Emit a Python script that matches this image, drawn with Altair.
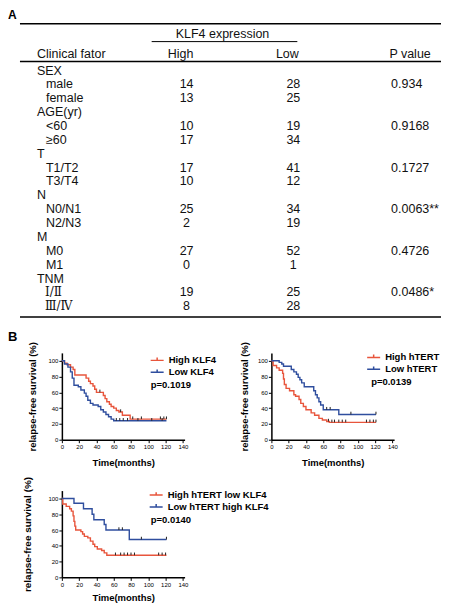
import altair as alt
import pandas as pd

# ---------------- Panel A: clinical table ----------------
panel_labels = ["A", "B"]
col_group_title = "KLF4 expression"
col_headers = ["Clinical fator", "High", "Low", "P value"]
factor_names = ["SEX", "AGE(yr)", "T", "N", "M", "TNM"]
factor_levels = [["male", "female"], ["<60", "≥60"], ["T1/T2", "T3/T4"],
                 ["N0/N1", "N2/N3"], ["M0", "M1"], ["Ⅰ/Ⅱ", "Ⅲ/Ⅳ"]]
klf4_high = [[14, 13], [10, 17], [17, 10], [25, 2], [27, 0], [19, 8]]
klf4_low = [[28, 25], [19, 34], [41, 12], [34, 19], [52, 1], [25, 28]]
p_values = ["0.934", "0.9168", "0.1727", "0.0063**", "0.4726", "0.0486*"]

# ---------------- Panel B: Kaplan-Meier curves ----------------
km1_names = ["High KLF4", "Low KLF4"]
km1_high_t = [0, 3, 6, 10, 13, 15, 28, 31, 33, 36, 38, 40, 48, 50, 52, 55, 57, 60, 63, 66, 70, 79, 121]
km1_high_s = [100, 97, 95, 92, 89, 82, 78, 74, 71, 68, 64, 60, 56, 52, 48, 45, 42, 40, 37, 35, 31, 26, 26]
km1_low_t = [0, 3, 7, 10, 12, 14, 19, 22, 26, 28, 30, 33, 36, 42, 45, 48, 51, 54, 57, 60, 121]
km1_low_s = [100, 96, 92, 86, 78, 69, 67, 63, 59, 55, 50, 46, 44, 42, 38, 35, 32, 29, 26, 24, 24]
km1_high_cens = [44, 68, 82, 92, 114, 118, 121]
km1_low_cens = [63, 67, 71, 76, 88, 104, 116]
km1_p = "p=0.1019"

km2_names = ["High hTERT", "Low hTERT"]
km2_high_t = [0, 2, 6, 9, 13, 14, 15, 17, 21, 26, 28, 32, 34, 37, 40, 46, 50, 55, 59, 64, 67, 121]
km2_high_s = [100, 94, 91, 88, 84, 77, 70, 65, 62, 57, 55, 51, 46, 42, 38, 34, 31, 27, 25, 23, 22, 22]
km2_low_t = [0, 9, 12, 14, 23, 26, 29, 31, 33, 35, 38, 49, 51, 53, 55, 57, 60, 78, 121]
km2_low_s = [100, 98, 96, 93, 89, 86, 83, 79, 76, 72, 67, 62, 57, 53, 48, 44, 38, 32, 32]
km2_high_cens = [66, 70, 73, 78, 82, 86, 110, 114, 118, 121]
km2_low_cens = [64, 68, 92, 121]
km2_p = "p=0.0139"

km3_names = ["High hTERT low KLF4", "Low hTERT high KLF4"]
km3_high_t = [0, 1, 5, 9, 11, 13, 14, 15, 16, 22, 24, 26, 30, 33, 36, 38, 41, 46, 49, 52, 121]
km3_high_s = [100, 93, 90, 87, 84, 78, 71, 65, 60, 58, 55, 52, 50, 46, 42, 39, 36, 34, 31, 28, 28]
km3_low_t = [0, 14, 25, 35, 37, 49, 51, 78, 121]
km3_low_s = [100, 94, 87, 80, 73, 67, 60, 48, 48]
km3_high_cens = [62, 68, 72, 76, 80, 84, 112, 116, 120]
km3_low_cens = [66, 70, 92, 121]
km3_p = "p=0.0140"

x_ticks = [0, 20, 40, 60, 80, 100, 120, 140]
y_ticks = [0, 20, 40, 60, 80, 100]

RED = "#e8553c"
BLUE = "#2f4e9e"
FONT = "Liberation Sans"

# ---------------- layout constants ----------------
KM_W, KM_H = 123, 87
ORIGIN_X, ORIGIN_Y = 62, 8         # page position of the first grid cell
ROW_GAP, COL_GAP = 51, 87
KM1_TOP = 353                      # page y of the top of the first KM plot
T_H = KM1_TOP - ORIGIN_Y - ROW_GAP  # table cell height

# ================= table panel (scale units = page pixels) =================
xs = alt.Scale(domain=[ORIGIN_X, ORIGIN_X + KM_W], nice=False, zero=False)
ys = alt.Scale(domain=[ORIGIN_Y, ORIGIN_Y + T_H], nice=False, zero=False, reverse=True)
ROW0, STEP = 70, 13.9
X_FACTOR, X_LEVEL, X_HIGH, X_LOW, X_P = 37, 46, 187, 294, 392
TS = 12.5

left_txt, center_txt, serif_txt = [], [], []
left_txt.append({"x": X_FACTOR, "y": 53, "t": col_headers[0]})
center_txt += [{"x": 181, "y": 53, "t": col_headers[1]},
               {"x": 288, "y": 53, "t": col_headers[2]},
               {"x": 411, "y": 53, "t": col_headers[3]},
               {"x": 223, "y": 33, "t": col_group_title}]
r = 0
for fname, levels, hi, lo, p in zip(factor_names, factor_levels, klf4_high, klf4_low, p_values):
    left_txt.append({"x": X_FACTOR, "y": ROW0 + r * STEP, "t": fname})
    r += 1
    for j, lev in enumerate(levels):
        y = ROW0 + r * STEP
        if any("\u2160" <= ch <= "\u2188" for ch in lev):
            serif_txt.append({"x": X_LEVEL - 1, "y": y, "t": lev})
        else:
            left_txt.append({"x": X_LEVEL, "y": y, "t": lev})
        center_txt.append({"x": X_HIGH, "y": y, "t": str(hi[j])})
        center_txt.append({"x": X_LOW, "y": y, "t": str(lo[j])})
        if j == 0:
            left_txt.append({"x": X_P, "y": y, "t": p})
        r += 1

rules = pd.DataFrame([
    {"x": 20, "x2": 442, "y": 23, "w": 1.5},
    {"x": 152, "x2": 298, "y": 41, "w": 1.0},
    {"x": 20, "x2": 442, "y": 61, "w": 1.5},
    {"x": 20, "x2": 442, "y": 317, "w": 1.5},
])


def tlayer(rows, align, font=FONT, size=TS, weight="normal"):
    return alt.Chart(pd.DataFrame(rows)).mark_text(
        align=align, baseline="middle", font=font, fontSize=size,
        fontWeight=weight, color="#111111"
    ).encode(
        x=alt.X("x:Q", scale=xs, axis=None),
        y=alt.Y("y:Q", scale=ys, axis=None),
        text="t:N",
    )


rule_layer = alt.Chart(rules).mark_rule(color="black").encode(
    x=alt.X("x:Q", scale=xs, axis=None),
    x2="x2:Q",
    y=alt.Y("y:Q", scale=ys, axis=None),
    strokeWidth=alt.StrokeWidth("w:Q", scale=None, legend=None),
)
a_label = alt.Chart(pd.DataFrame({"t": [panel_labels[0]], "x": [8], "y": [18]})).mark_text(
    align="left", baseline="alphabetic", font=FONT, fontSize=12, fontWeight="bold", color="black"
).encode(x=alt.X("x:Q", scale=xs, axis=None), y=alt.Y("y:Q", scale=ys, axis=None), text="t:N")

table = alt.layer(
    rule_layer,
    tlayer(left_txt, "left"),
    tlayer(center_txt, "center"),
    tlayer(serif_txt, "left", font="DejaVu Serif", size=12),
    a_label,
).properties(width=KM_W, height=T_H)

# empty placeholder for the second cell of the table row
filler = alt.Chart(pd.DataFrame({"v": []})).mark_point().encode(
    x=alt.X("v:Q", axis=None), y=alt.Y("v:Q", axis=None)
).properties(width=KM_W, height=1)

# ================= KM panels =================
LEGEND_PATH = "M-1,0H1M0,0V-0.45"


def surv_at(ts, ss, c):
    v = ss[0]
    for t, s in zip(ts, ss):
        if t <= c:
            v = s
    return v


def km_panel(names, hi_t, hi_s, lo_t, lo_s, hi_c, lo_c, pval, legend_xy, p_xy,
             ytp, xtp, ytitle_size=9.5, extra=None):
    rows = []
    for name, ts, ss in ((names[0], hi_t, hi_s), (names[1], lo_t, lo_s)):
        for t, s in zip(ts, ss):
            rows.append({"group": name, "time": t, "surv": s})
    line_df = pd.DataFrame(rows)
    crow = []
    for ts, ss, cs in ((hi_t, hi_s, hi_c), (lo_t, lo_s, lo_c)):
        for c in cs:
            crow.append({"time": c, "surv": surv_at(ts, ss, c)})
    cens_df = pd.DataFrame(crow)

    xaxis = alt.Axis(values=x_ticks, title="Time(months)", titlePadding=xtp,
                     labelFlush=False, labelOverlap=False, labelBound=False)
    yaxis = alt.Axis(values=y_ticks, title="relapse-free survival (%)", titlePadding=ytp,
                     titleFontSize=ytitle_size, labelFlush=False, labelOverlap=False,
                     labelBound=False)
    xsc = alt.Scale(domain=[0, 142], nice=False)
    ysc = alt.Scale(domain=[0, 110], nice=False)
    lines = alt.Chart(line_df).mark_line(interpolate="step-after", strokeWidth=1.4).encode(
        x=alt.X("time:Q", scale=xsc, axis=xaxis),
        y=alt.Y("surv:Q", scale=ysc, axis=yaxis),
        color=alt.Color("group:N", scale=alt.Scale(domain=names, range=[RED, BLUE]),
                        legend=alt.Legend(orient="none", legendX=legend_xy[0], legendY=legend_xy[1],
                                          title=None, symbolType=LEGEND_PATH, symbolSize=169,
                                          symbolStrokeWidth=1.5, labelFontSize=9.5,
                                          labelFontWeight="bold", labelOffset=4, rowPadding=0,
                                          padding=0, labelColor="black", labelFont=FONT)),
    )
    cens = alt.Chart(cens_df).mark_point(shape="M0,0V-1", size=30, filled=False,
                                         color="#222222", strokeWidth=1, opacity=1).encode(
        x=alt.X("time:Q", scale=xsc, axis=xaxis),
        y=alt.Y("surv:Q", scale=ysc, axis=yaxis))
    ptxt = alt.Chart(pd.DataFrame({"p": [pval]})).mark_text(
        align="left", baseline="middle", font=FONT, fontSize=9.5, fontWeight="bold", color="black"
    ).encode(x=alt.value(p_xy[0]), y=alt.value(p_xy[1]), text="p:N")
    layers = [lines, cens, ptxt]
    if extra is not None:
        layers.append(extra)
    return alt.layer(*layers).properties(width=KM_W, height=KM_H)


b_label = alt.Chart(pd.DataFrame({"t": [panel_labels[1]]})).mark_text(
    align="left", baseline="alphabetic", font=FONT, fontSize=13, fontWeight="bold", color="black"
).encode(x=alt.value(8 - ORIGIN_X), y=alt.value(-12), text="t:N")

km1 = km_panel(km1_names, km1_high_t, km1_high_s, km1_low_t, km1_low_s, km1_high_cens,
               km1_low_cens, km1_p, (88, 0), (89, 32), 10, 8, extra=b_label)
km2 = km_panel(km2_names, km2_high_t, km2_high_s, km2_low_t, km2_low_s, km2_high_cens,
               km2_low_cens, km2_p, (95, -3), (100, 29), 8, 8)
km3 = km_panel(km3_names, km3_high_t, km3_high_s, km3_low_t, km3_low_s, km3_high_cens,
               km3_low_cens, km3_p, (87, -3), (89, 29), 15, 5, ytitle_size=10)

chart = alt.concat(
    table, filler, km1, km2, km3,
    columns=2, spacing={"row": ROW_GAP, "column": COL_GAP}, bounds="flush", align="each",
).resolve_scale(color="independent").resolve_legend(color="independent").properties(
    padding=0
).configure(font=FONT).configure_view(stroke=None).configure_axis(
    grid=False, domainColor="black", domainWidth=1.5, tickColor="black", tickWidth=1,
    tickSize=3, labelFontSize=6, labelColor="black", labelPadding=1, titleColor="black",
    titleFontSize=9.5, titleFontWeight="bold", titleFont=FONT, labelFont=FONT,
    labelOverlap=False, labelFlush=False
)

chart.save("out.html", embed_options={"renderer": "svg", "actions": False})
